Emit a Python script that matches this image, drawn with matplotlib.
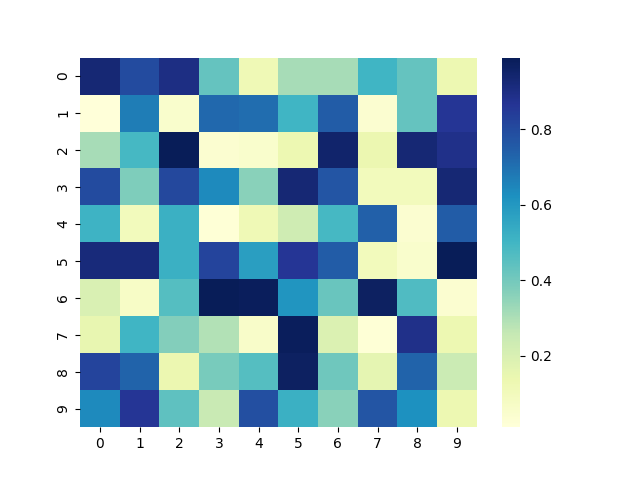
import numpy as np
import matplotlib
matplotlib.use("Agg")
import matplotlib.pyplot as plt
import seaborn as sns

# cell values, row by row
row0 = [0.93, 0.80, 0.90, 0.43, 0.12, 0.31, 0.31, 0.50, 0.43, 0.13]
row1 = [0.01, 0.67, 0.05, 0.72, 0.71, 0.50, 0.75, 0.04, 0.43, 0.86]
row2 = [0.31, 0.49, 0.99, 0.04, 0.05, 0.13, 0.95, 0.14, 0.93, 0.89]
row3 = [0.80, 0.38, 0.81, 0.64, 0.36, 0.93, 0.77, 0.10, 0.10, 0.93]
row4 = [0.51, 0.10, 0.52, 0.02, 0.12, 0.23, 0.49, 0.74, 0.04, 0.75]
row5 = [0.92, 0.92, 0.52, 0.82, 0.58, 0.86, 0.75, 0.10, 0.05, 0.99]
row6 = [0.20, 0.07, 0.46, 0.99, 0.98, 0.61, 0.42, 0.97, 0.47, 0.04]
row7 = [0.15, 0.50, 0.37, 0.29, 0.06, 0.98, 0.19, 0.02, 0.89, 0.13]
row8 = [0.82, 0.73, 0.14, 0.39, 0.46, 0.97, 0.41, 0.16, 0.73, 0.24]
row9 = [0.64, 0.86, 0.44, 0.25, 0.79, 0.52, 0.36, 0.77, 0.62, 0.13]

data = np.array([row0, row1, row2, row3, row4, row5, row6, row7, row8, row9])

fig = plt.figure(figsize=(6.4, 4.8), dpi=100)
ax = sns.heatmap(data, cmap="YlGnBu")

plt.savefig("out.png")
